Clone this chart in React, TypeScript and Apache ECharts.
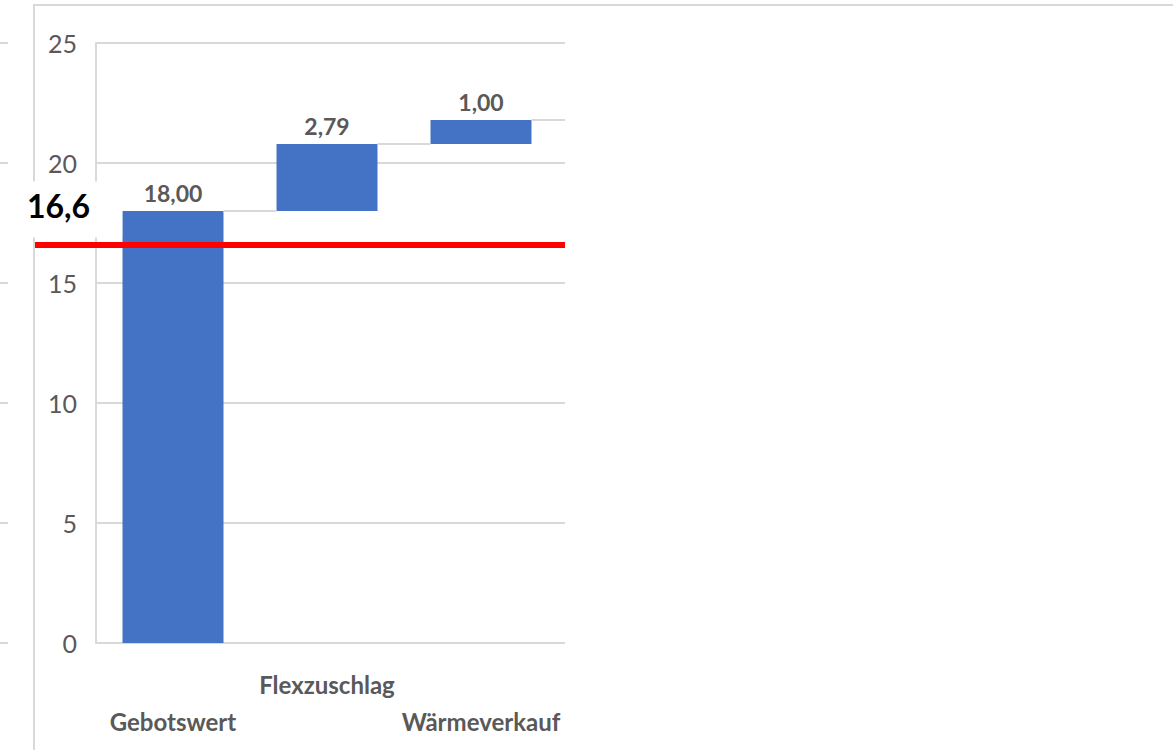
import React, { useEffect, useRef } from "react";
import * as echarts from "echarts";

// Waterfall: bid value plus surcharges, with the 16.6 reference level
const categories = ["Gebotswert", "Flexzuschlag", "Wärmeverkauf"];
const increments = [18.0, 2.79, 1.0];
const referenceValue = 16.6;
const yMin = 0;
const yMax = 25;
const yStep = 5;

// Running totals: invisible base under each floating bar
const bases: number[] = [];
const tops: number[] = [];
increments.reduce((run, v) => {
  bases.push(run);
  tops.push(run + v);
  return run + v;
}, 0);

const fmt = (v: number, digits: number) => v.toFixed(digits).replace(".", ",");

const FONT = "Lato, 'Open Sans', sans-serif";
const GRAY_TEXT = "#595959";
const GRID_LINE = "#d9d9d9";
const BAR = "#4472C4";

const PLOT_TOP = 43;
const PLOT_H = 600;
const PLOT_LEFT = 96;
const PLOT_RIGHT = 565;
const BAR_W = 101;

export default function App() {
  const ref = useRef<HTMLDivElement>(null);

  useEffect(() => {
    if (!ref.current) return;
    const chart = echarts.init(ref.current, null, { renderer: "svg" });

    const hiddenY = (gridIndex: number) => ({
      type: "value" as const,
      gridIndex,
      min: yMin,
      max: yMax,
      interval: yStep,
      axisLine: { show: false },
      axisTick: { show: false },
      axisLabel: { show: false },
      splitLine: { show: false },
    });
    const hiddenX = (gridIndex: number) => ({
      type: "value" as const,
      gridIndex,
      min: 0,
      max: 1,
      show: false,
    });

    chart.setOption({
      animation: false,
      backgroundColor: "#ffffff",
      graphic: [
        {
          type: "rect",
          z: 0,
          shape: { x: 34, y: 5, width: 1300, height: 900 },
          style: { fill: "none", stroke: GRID_LINE, lineWidth: 2 },
        },
      ],
      grid: [
        // neighbouring panel's gridline stubs at the left edge
        { left: 0, top: PLOT_TOP, width: 8, height: PLOT_H },
        // gridlines and value axis
        { left: PLOT_LEFT, top: PLOT_TOP, width: PLOT_RIGHT - PLOT_LEFT, height: PLOT_H },
        // bars
        { left: PLOT_LEFT, top: PLOT_TOP, width: 462, height: PLOT_H },
        // reference line
        { left: 35, top: PLOT_TOP, width: PLOT_RIGHT - 35, height: PLOT_H },
      ],
      xAxis: [
        hiddenX(0),
        hiddenX(1),
        {
          type: "category",
          gridIndex: 2,
          data: categories,
          axisLine: { show: false },
          axisTick: { show: false },
          axisLabel: {
            interval: 0,
            margin: 23,
            color: GRAY_TEXT,
            fontFamily: FONT,
            fontSize: 24,
            fontWeight: "bold",
            lineHeight: 37,
            formatter: (value: string, index: number) =>
              index % 2 === 1 ? value + "\n" : "\n" + value,
          },
        },
        hiddenX(3),
      ],
      yAxis: [
        {
          ...hiddenY(0),
          splitLine: { show: true, lineStyle: { color: GRID_LINE, width: 2 } },
        },
        {
          type: "value",
          gridIndex: 1,
          min: yMin,
          max: yMax,
          interval: yStep,
          axisLine: { show: true, lineStyle: { color: GRID_LINE, width: 2 } },
          axisTick: { show: false },
          axisLabel: {
            color: GRAY_TEXT,
            fontFamily: FONT,
            fontSize: 25,
            margin: 19,
          },
          splitLine: { show: true, lineStyle: { color: GRID_LINE, width: 2 } },
        },
        hiddenY(2),
        hiddenY(3),
      ],
      series: [
        {
          type: "bar",
          xAxisIndex: 2,
          yAxisIndex: 2,
          stack: "wf",
          barWidth: BAR_W,
          itemStyle: { color: "transparent" },
          silent: true,
          data: bases,
        },
        {
          type: "bar",
          xAxisIndex: 2,
          yAxisIndex: 2,
          stack: "wf",
          barWidth: BAR_W,
          itemStyle: { color: BAR },
          label: {
            show: true,
            position: "top",
            distance: 7,
            color: GRAY_TEXT,
            fontFamily: FONT,
            fontSize: 23,
            fontWeight: "bold",
            formatter: (p: any) => fmt(p.value, 2),
          },
          data: increments,
        },
        {
          // connector lines from each bar's top to the next bar
          type: "custom",
          xAxisIndex: 2,
          yAxisIndex: 2,
          z: 3,
          silent: true,
          data: tops.map((t, i) => [i, t]),
          renderItem: (params: any, api: any) => {
            const i = api.value(0);
            const top = api.value(1);
            const p = api.coord([i, top]);
            const x1 = p[0] + BAR_W / 2;
            const x2 =
              i < categories.length - 1
                ? api.coord([i + 1, top])[0] - BAR_W / 2
                : PLOT_RIGHT;
            return {
              type: "line",
              shape: { x1, y1: p[1], x2, y2: p[1] },
              style: { stroke: GRID_LINE, lineWidth: 2 },
            };
          },
        },
        {
          type: "line",
          xAxisIndex: 3,
          yAxisIndex: 3,
          data: [],
          z: 10,
          markLine: {
            silent: true,
            symbol: "none",
            z: 10,
            lineStyle: { color: "#ff0000", width: 6, type: "solid" },
            label: {
              show: true,
              position: "insideStartTop",
              distance: [-8, 7],
              color: "#000000",
              fontFamily: FONT,
              fontSize: 32,
              fontWeight: "bold",
              backgroundColor: "#ffffff",
              padding: [8, 32, 16, 0],
              formatter: (p: any) => fmt(p.value, 1),
            },
            data: [{ yAxis: referenceValue }],
          },
        },
      ],
    });

    return () => chart.dispose();
  }, []);

  return (
    <div
      ref={ref}
      style={{ position: "fixed", left: 0, top: 0, width: 1173, height: 750 }}
    />
  );
}
